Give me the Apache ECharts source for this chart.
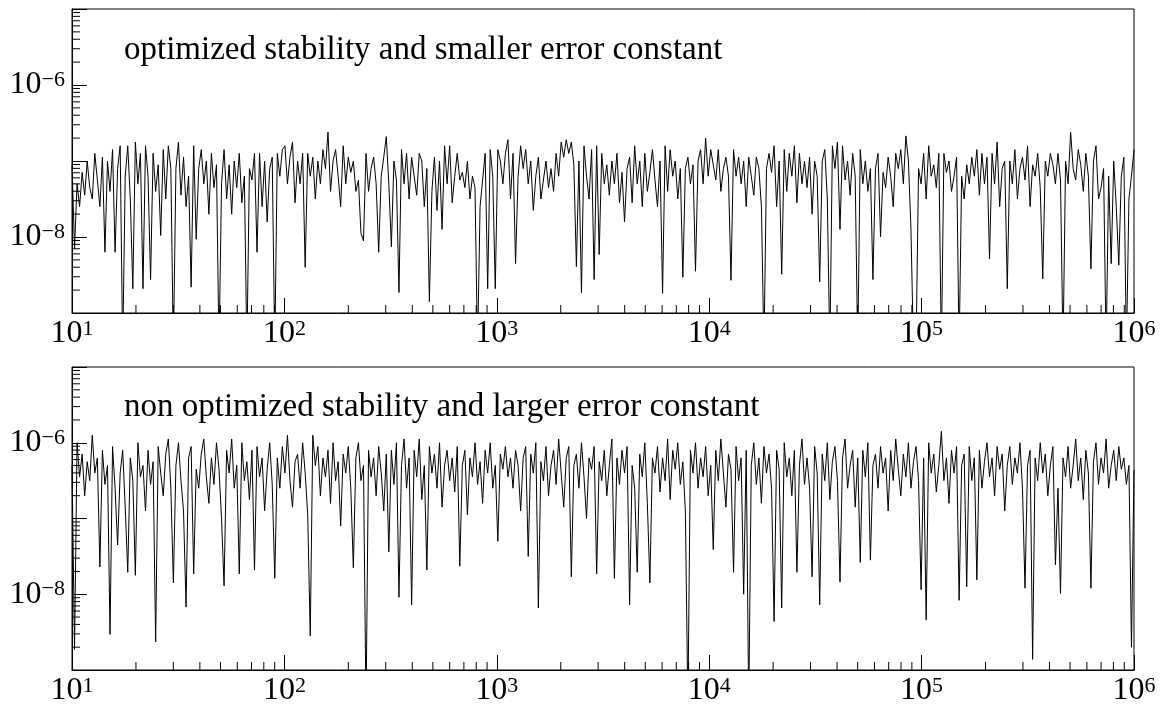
<!DOCTYPE html>
<html>
<head>
<meta charset="utf-8">
<style>
html, body { margin: 0; padding: 0; background: #fff; }
#chart { width: 1160px; height: 707px; }
</style>
<script src="https://cdn.jsdelivr.net/npm/echarts@6/dist/echarts.min.js"></script>
</head>
<body>
<div id="chart"></div>
<script>
// log10 of the error at each output step
// (steps are evenly spaced in log t, from t = 10 to t = 1e6)
var logErrOpt = [
    -7.05, -8.15, -7.3, -7.6, -7.15, -7.45, -7.0, -7.35, -7.5, -6.9,
    -7.25, -7.6, -6.95, -8.2, -7.0, -7.4, -6.85, -8.2, -7.1, -6.8,
    -9.5, -7.2, -6.8, -7.5, -8.68, -6.75, -7.3, -6.9, -8.68, -6.8,
    -7.2, -8.56, -6.9, -7.4, -7.05, -7.98, -6.85, -7.5, -6.8, -7.1,
    -9.5, -7.1, -6.75, -7.45, -6.95, -7.6, -7.2, -8.66, -6.8, -8.03,
    -7.1, -6.85, -7.3, -7.0, -7.7, -6.9, -7.35, -7.05, -9.5, -7.3,
    -6.85, -7.5, -7.05, -7.7, -7.0, -7.35, -6.9, -7.55, -7.2, -9.5,
    -7.1, -7.25, -6.9, -8.2, -6.9, -7.6, -7.0, -7.8, -7.1, -6.95,
    -9.5, -6.9, -7.2, -6.85, -6.8, -7.3, -6.95, -6.75, -7.55, -7.0,
    -7.3, -6.9, -8.4, -6.9, -7.2, -6.95, -7.5, -7.0, -7.3, -6.85,
    -7.1, -6.62, -7.4, -7.0, -6.85, -7.2, -7.6, -6.8, -7.3, -6.95,
    -7.15, -7.0, -7.4, -7.25, -7.95, -8.05, -6.9, -7.4, -7.1, -6.95,
    -7.3, -8.2, -7.2, -6.95, -6.68, -7.3, -8.13, -7.0, -7.25, -8.73,
    -6.85, -7.3, -6.9, -7.5, -6.95, -7.2, -7.45, -6.9, -7.0, -7.6,
    -7.1, -8.85, -7.4, -6.95, -7.65, -7.0, -7.9, -6.8, -7.3, -6.8,
    -7.55, -7.2, -6.9, -7.25, -7.15, -7.35, -7.0, -7.5, -7.2, -7.35,
    -9.5, -7.6, -7.25, -6.9, -8.68, -6.85, -7.2, -8.68, -6.85, -7.0,
    -7.3, -6.9, -6.72, -7.5, -6.9, -8.35, -7.2, -6.8, -7.1, -6.85,
    -7.3, -7.0, -7.65, -7.2, -6.95, -7.5, -7.25, -7.0, -7.35, -7.1,
    -7.4, -6.9, -7.2, -6.75, -6.95, -6.72, -6.9, -6.75, -7.05, -8.39,
    -7.0, -8.73, -6.8, -7.2, -7.5, -6.85, -8.56, -6.8, -8.23, -6.9,
    -7.3, -7.05, -7.45, -7.0, -7.3, -6.9, -7.55, -7.15, -7.8, -7.1,
    -6.95, -7.55, -6.8, -7.3, -7.0, -7.6, -6.9, -7.4, -7.15, -6.85,
    -7.25, -7.6, -7.0, -8.74, -6.8, -7.4, -6.85, -7.2, -7.0, -7.5,
    -7.1, -8.53, -7.1, -6.95, -7.3, -7.05, -8.45, -7.0, -6.85, -7.3,
    -6.7, -7.2, -6.85, -7.05, -7.25, -6.85, -7.4, -7.1, -6.95, -7.2,
    -8.57, -6.85, -7.2, -6.95, -7.3, -7.0, -7.6, -6.95, -7.2, -7.45,
    -6.95, -7.1, -7.6, -9.5, -7.1, -6.9, -7.15, -6.8, -7.6, -7.0,
    -8.49, -6.85, -7.4, -6.9, -7.2, -6.8, -7.55, -6.9, -7.3, -7.0,
    -7.35, -6.95, -7.7, -7.0, -7.2, -8.59, -7.0, -6.85, -7.5, -9.5,
    -6.8, -7.1, -6.75, -7.9, -6.8, -7.25, -7.0, -7.45, -6.9, -7.2,
    -9.5, -6.85, -7.3, -7.0, -7.4, -7.1, -8.56, -7.1, -6.9, -8.0,
    -7.15, -7.35, -6.95, -7.2, -7.6, -6.9, -7.1, -6.85, -7.3, -6.67,
    -7.0, -7.9, -9.5, -9.5, -7.1, -7.3, -6.9, -7.5, -6.8, -7.2,
    -7.05, -7.35, -6.9, -9.5, -6.9, -7.15, -7.0, -7.4, -7.2, -6.95,
    -9.5, -7.2, -7.5, -7.05, -7.3, -6.95, -7.2, -6.85, -7.45, -6.9,
    -7.3, -6.95, -8.29, -6.9, -7.3, -6.75, -7.6, -7.1, -7.0, -8.68,
    -7.0, -7.3, -6.85, -7.5, -7.1, -6.95, -7.25, -6.8, -7.6, -7.05,
    -7.2, -6.9, -7.35, -8.55, -7.0, -7.2, -6.9, -7.05, -7.3, -6.9,
    -7.25, -9.5, -7.0, -7.3, -6.62, -7.1, -7.25, -6.85, -7.05, -7.4,
    -6.9, -7.2, -8.42, -7.0, -6.8, -7.5, -7.35, -7.1, -9.5, -7.2,
    -8.35, -7.0, -7.6, -8.37, -7.2, -6.95, -9.5, -7.5, -7.2, -6.85
];

var logErrNonOpt = [
    -6.3, -8.73, -6.0, -6.45, -6.15, -6.7, -6.25, -6.5, -5.9, -6.4,
    -6.2, -7.64, -6.1, -6.55, -6.3, -8.53, -6.05, -6.6, -7.35, -6.4,
    -6.1, -6.85, -7.71, -6.2, -6.5, -7.75, -6.0, -6.45, -6.3, -6.9,
    -6.1, -6.55, -6.25, -8.63, -6.05, -6.4, -6.7, -6.15, -5.95, -6.6,
    -7.85, -6.3, -6.0, -6.5, -6.9, -8.17, -6.2, -6.05, -7.73, -6.35,
    -6.6, -6.15, -5.95, -6.45, -6.8, -6.2, -6.55, -6.0, -6.35, -7.0,
    -7.89, -6.1, -6.4, -5.95, -6.6, -6.3, -7.73, -6.0, -6.5, -6.25,
    -6.75, -6.1, -7.68, -6.05, -6.45, -6.2, -6.9, -6.35, -6.0, -6.55,
    -7.79, -6.2, -6.6, -6.05, -6.4, -5.9, -6.5, -6.85, -6.25, -6.15,
    -6.6, -6.0, -6.4, -6.95, -8.55, -5.9, -6.3, -6.05, -6.7, -6.2,
    -6.45, -6.1, -6.8, -6.0, -6.5, -6.25, -7.1, -6.15, -6.4, -6.05,
    -6.6, -7.65, -6.2, -6.0, -6.5, -6.3, -9.5, -6.1, -6.45, -6.2,
    -6.7, -6.05, -6.4, -6.9, -6.15, -7.44, -6.1, -6.55, -6.0, -8.04,
    -6.3, -5.95, -6.6, -6.2, -8.14, -6.1, -6.45, -5.95, -6.75, -6.3,
    -7.68, -6.05, -6.4, -6.15, -6.6, -6.0, -6.85, -6.3, -6.1, -6.5,
    -6.2, -6.65, -6.05, -7.63, -6.3, -6.1, -6.95, -6.2, -6.45, -6.0,
    -6.55, -6.25, -6.8, -6.1, -6.4, -6.0, -6.6, -6.3, -7.3, -6.15,
    -6.35, -6.05, -6.45, -6.2, -6.6, -6.1, -6.3, -6.9, -6.2, -6.05,
    -7.5, -6.15, -6.4, -6.0, -8.18, -6.25, -6.5, -6.05, -6.7, -6.3,
    -6.1, -6.55, -5.95, -6.4, -6.85, -6.2, -6.05, -7.77, -6.3, -6.15,
    -6.6, -6.0, -6.45, -7.0, -6.2, -6.35, -6.05, -7.73, -6.25, -6.5,
    -6.1, -6.7, -6.3, -5.95, -7.79, -6.2, -6.55, -6.1, -6.4, -6.05,
    -8.14, -6.3, -6.6, -7.71, -6.15, -6.45, -6.0, -6.8, -7.85, -6.2,
    -6.4, -6.05, -6.65, -6.2, -6.5, -5.95, -6.75, -6.1, -6.35, -6.0,
    -6.55, -6.25, -6.9, -9.5, -6.1, -6.4, -6.0, -6.6, -6.2, -6.45,
    -6.05, -6.7, -6.3, -7.41, -6.1, -6.5, -5.95, -6.4, -6.85, -6.15,
    -6.35, -7.71, -6.05, -6.5, -6.2, -8.0, -6.1, -9.5, -6.3, -6.0,
    -6.55, -6.2, -6.8, -6.05, -6.4, -6.15, -6.6, -8.36, -6.1, -6.35,
    -8.18, -6.0, -6.45, -6.2, -6.7, -6.1, -7.71, -6.3, -5.95, -6.55,
    -6.2, -6.6, -7.77, -6.05, -6.4, -8.14, -6.15, -6.5, -6.0, -6.75,
    -6.25, -6.05, -6.5, -7.84, -6.2, -5.95, -6.6, -6.3, -6.1, -6.85,
    -6.2, -7.58, -6.1, -6.45, -6.0, -7.55, -6.3, -6.15, -6.6, -6.05,
    -6.4, -6.2, -6.9, -6.1, -6.5, -5.95, -6.35, -6.7, -6.15, -6.45,
    -6.0, -6.6, -6.25, -6.05, -6.5, -7.94, -6.2, -8.34, -6.0, -6.4,
    -6.15, -6.65, -6.3, -5.85, -6.5, -6.2, -6.8, -6.1, -6.4, -6.05,
    -8.08, -6.3, -6.15, -7.9, -6.05, -6.5, -6.2, -7.81, -6.1, -6.6,
    -6.25, -6.0, -6.45, -6.2, -6.7, -6.05, -6.35, -6.15, -6.9, -6.3,
    -6.05, -6.55, -6.2, -6.4, -6.0, -6.6, -7.92, -6.3, -6.1, -8.86,
    -6.2, -6.5, -6.0, -6.4, -6.15, -6.7, -6.3, -6.05, -7.61, -6.6,
    -7.99, -6.2, -6.45, -6.05, -6.6, -6.3, -5.95, -6.5, -6.2, -6.75,
    -6.1, -6.4, -7.92, -6.25, -6.0, -6.55, -6.2, -6.4, -5.95, -6.6,
    -6.3, -6.1, -6.5, -6.05, -6.35, -6.2, -6.55, -6.3, -8.7, -6.36
];

var panelTitles = [
    'optimized stability and smaller error constant',
    'non optimized stability and larger error constant'
];
var yLabelExps = [-6, -8];   // decades that carry a label on the y axis

var X_MIN = 10, X_MAX = 1e6;
var Y_MIN = 1e-9, Y_MAX = 1e-5;
var FONT = 'Liberation Serif';

function toPoints(logs) {
    var n = logs.length;
    return logs.map(function (e, i) {
        return [Math.pow(10, 1 + 5 * i / (n - 1)), Math.pow(10, e)];
    });
}

// minor log ticks (2..9 in each decade)
function minorTicks(lo, hi) {
    var out = [];
    for (var k = lo; k < hi; k++) {
        for (var m = 2; m <= 9; m++) out.push(m * Math.pow(10, k));
    }
    return out;
}

function tickSeries(idx, dir, vals, len) {
    return {
        type: 'custom',
        xAxisIndex: idx,
        yAxisIndex: idx,
        silent: true,
        animation: false,
        data: vals.map(function (v) { return dir === 'x' ? [v, Y_MIN] : [X_MIN, v]; }),
        renderItem: function (params, api) {
            var p = api.coord([api.value(0), api.value(1)]);
            var shape = dir === 'x'
                ? { x1: p[0], y1: p[1], x2: p[0], y2: p[1] - len }
                : { x1: p[0], y1: p[1], x2: p[0] + len, y2: p[1] };
            return { type: 'line', shape: shape, style: { stroke: '#000', lineWidth: 1 } };
        }
    };
}

var richLabel = {
    b: { fontFamily: FONT, fontSize: 32, color: '#000', lineHeight: 32 },
    s: { fontFamily: FONT, fontSize: 22, color: '#000', verticalAlign: 'top', lineHeight: 20 }
};

var grids = [
    { left: 72, top: 9, width: 1062, height: 304 },
    { left: 72, top: 367, width: 1062, height: 303 }
];

var chart = echarts.init(document.getElementById('chart'));

var option = {
    animation: false,
    backgroundColor: '#fff',
    title: panelTitles.map(function (t, i) {
        return {
            text: t,
            left: 124,
            top: i === 0 ? 34 : 391,
            padding: 0,
            textStyle: { fontFamily: FONT, fontSize: 33, fontWeight: 'normal', color: '#000' }
        };
    }),
    grid: grids.map(function (g) {
        return Object.assign({ show: true, borderColor: '#000', borderWidth: 1, backgroundColor: 'transparent' }, g);
    }),
    xAxis: [0, 1].map(function (i) {
        return {
            type: 'log',
            logBase: 10,
            gridIndex: i,
            min: X_MIN,
            max: X_MAX,
            splitNumber: 5,
            axisLine: { lineStyle: { color: '#000', width: 1 } },
            axisTick: { inside: true, length: 15, lineStyle: { color: '#000' } },
            splitLine: { show: false },
            axisLabel: {
                margin: 5,
                showMinLabel: true,
                showMaxLabel: true,
                formatter: function (v) {
                    return '{b|10}{s|' + Math.round(Math.log10(v)) + '}';
                },
                rich: richLabel
            }
        };
    }),
    yAxis: [0, 1].map(function (i) {
        return {
            type: 'log',
            logBase: 10,
            gridIndex: i,
            min: Y_MIN,
            max: Y_MAX,
            splitNumber: 4,
            axisLine: { lineStyle: { color: '#000', width: 1 } },
            axisTick: { inside: true, length: 15, lineStyle: { color: '#000' } },
            splitLine: { show: false },
            axisLabel: {
                margin: 7,
                showMinLabel: true,
                showMaxLabel: true,
                formatter: function (v) {
                    var e = Math.round(Math.log10(v));
                    if (yLabelExps.indexOf(e) < 0) return '';
                    return '{b|10}{s|\u2212' + Math.abs(e) + '}';
                },
                rich: richLabel
            }
        };
    }),
    series: [
        {
            type: 'line',
            xAxisIndex: 0,
            yAxisIndex: 0,
            data: toPoints(logErrOpt),
            showSymbol: false,
            lineStyle: { color: '#000', width: 1 },
            clip: true
        },
        {
            type: 'line',
            xAxisIndex: 1,
            yAxisIndex: 1,
            data: toPoints(logErrNonOpt),
            showSymbol: false,
            lineStyle: { color: '#000', width: 1 },
            clip: true
        },
        tickSeries(0, 'x', minorTicks(1, 6), 8),
        tickSeries(0, 'y', minorTicks(-9, -5), 8),
        tickSeries(1, 'x', minorTicks(1, 6), 8),
        tickSeries(1, 'y', minorTicks(-9, -5), 8)
    ]
};

chart.setOption(option);
</script>
</body>
</html>
